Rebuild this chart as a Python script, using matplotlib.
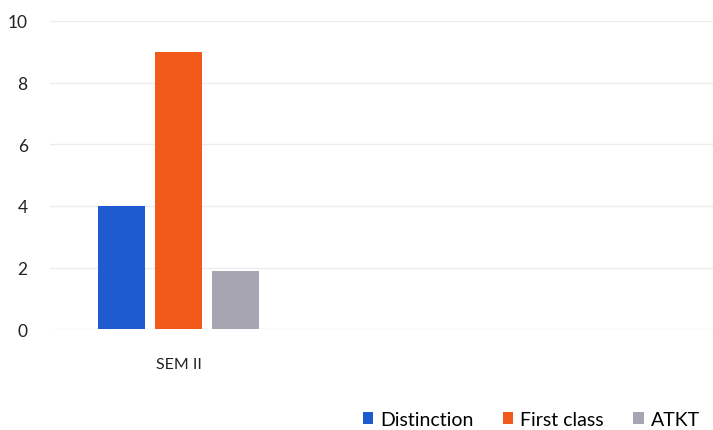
import matplotlib.pyplot as plt

plt.rcParams['font.family'] = ['Lato', 'DejaVu Sans']

categories = ["SEM II"]
series_names = ["Distinction", "First class", "ATKT"]
series_values = [[4], [9], [1.9]]
colors = ["#1f5bd0", "#f25a1c", "#a8a5b3"]
y_ticks = [0, 2, 4, 6, 8, 10]

fig = plt.figure(figsize=(7.13, 4.31), dpi=100)
ax = fig.add_axes([0.07, 0.234, 0.93, 0.715])

step = 1.0
width = 0.82
for i, (name, vals) in enumerate(zip(series_names, series_values)):
    xs = [c + (i - 1) * step for c in range(len(categories))]
    ax.bar(xs, vals, width=width, color=colors[i], label=name, zorder=3)

ax.set_xlim(-2.26, 9.37)
ax.set_ylim(0, 10)
ax.set_yticks(y_ticks)
ax.set_yticklabels([str(t) for t in y_ticks], fontsize=12.5, color="#222222")
ax.set_xticks(range(len(categories)))
ax.set_xticklabels(categories, fontsize=11.5, color="#222222")
ax.tick_params(axis="y", length=0, pad=16)
ax.tick_params(axis="x", length=0, pad=20)
ax.grid(True, axis="y", color="#ececec", linewidth=1, zorder=0)
for s in ax.spines.values():
    s.set_visible(False)

fig.legend(loc="lower right", bbox_to_anchor=(0.995, -0.018), ncol=3, frameon=False,
           fontsize=14, handlelength=0.55, handleheight=0.55, handletextpad=0.35,
           columnspacing=1.5, borderaxespad=0.1)

fig.savefig("out.png", dpi=100)
